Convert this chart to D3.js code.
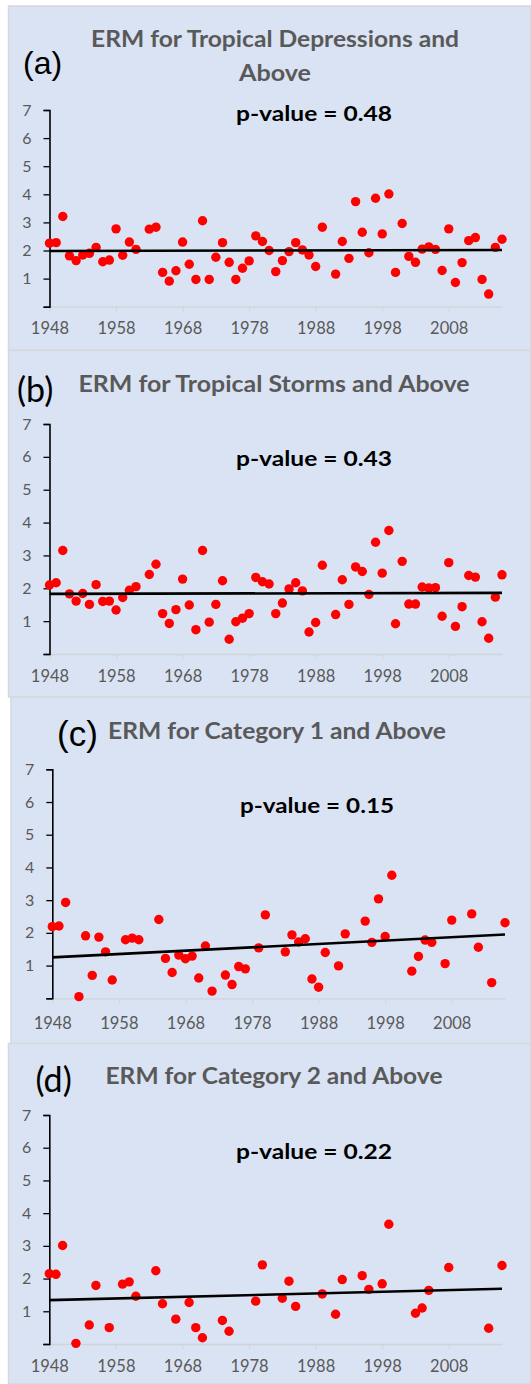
<!DOCTYPE html>
<html lang="en">
<head>
<meta charset="utf-8">
<title>ERM panels</title>
<script src="https://cdnjs.cloudflare.com/ajax/libs/d3/7.8.5/d3.min.js"></script>
<style>
  body { margin: 0; background: #fff; }
</style>
</head>
<body>
<svg id="chart" width="531" height="1384"></svg>
<script>
// years with data for panels (a) and (b)
var yearsAB = [1948,1949,1950,1951,1952,1953,1954,1955,1956,1957,1958,1959,1960,1961,1963,1964,1965,1966,1967,1968,
  1969,1970,1971,1972,1973,1974,1975,1976,1977,1978,1979,1980,1981,1982,1983,1984,1985,1986,1987,1988,1989,
  1991,1992,1993,1994,1995,1996,1997,1998,1999,2000,2001,2002,2003,2004,2005,2006,2007,2008,2009,2010,2011,
  2012,2013,2014,2015,2016];
var ermA = [2.26,2.28,3.21,1.81,1.64,1.84,1.90,2.11,1.60,1.66,2.77,1.83,2.30,2.04,2.76,2.83,1.22,0.91,1.28,2.30,
  1.51,0.97,3.06,0.97,1.76,2.28,1.58,0.97,1.37,1.63,2.52,2.32,2.00,1.25,1.64,1.96,2.28,2.02,1.84,1.43,2.83,
  1.16,2.32,1.72,3.74,2.65,1.92,3.86,2.59,4.01,1.22,2.96,1.79,1.58,2.05,2.13,2.04,1.29,2.77,0.86,1.57,2.35,
  2.46,0.97,0.45,2.11,2.40];
var ermB = [2.10,2.17,3.15,1.83,1.61,1.84,1.51,2.11,1.60,1.61,1.34,1.72,1.94,2.05,2.42,2.73,1.23,0.93,1.35,2.28,
  1.49,0.74,3.15,0.97,1.51,2.23,0.45,0.98,1.09,1.23,2.33,2.20,2.13,1.23,1.55,1.98,2.17,1.92,0.67,0.96,2.70,
  1.20,2.26,1.51,2.65,2.51,1.81,3.40,2.46,3.76,0.92,2.82,1.52,1.52,2.04,2.01,2.02,1.15,2.78,0.84,1.44,2.39,
  2.34,0.98,0.48,1.73,2.41];

var yearsC = [1948,1949,1950,1952,1953,1954,1955,1956,1957,1959,1960,1961,1964,1965,1966,1967,1968,1969,1970,1971,
  1972,1974,1975,1976,1977,1979,1980,1983,1984,1985,1986,1987,1988,1989,1991,1992,1995,1996,1997,1998,1999,
  2002,2003,2004,2005,2007,2008,2011,2012,2014,2016];
var ermC = [2.19,2.21,2.93,0.05,1.91,0.70,1.87,1.42,0.56,1.79,1.84,1.79,2.41,1.22,0.79,1.32,1.21,1.29,0.62,1.60,
  0.22,0.71,0.42,0.97,0.90,1.54,2.55,1.42,1.94,1.72,1.82,0.59,0.34,1.40,0.99,1.97,2.36,1.71,3.04,1.89,3.76,
  0.83,1.28,1.78,1.71,1.06,2.39,2.58,1.56,0.48,2.31];

var yearsD = [1948,1949,1950,1952,1954,1955,1957,1959,1960,1961,1964,1965,1967,1969,1970,1971,1974,1975,1979,1980,
  1983,1984,1985,1989,1991,1992,1995,1996,1998,1999,2003,2004,2005,2008,2014,2016];
var ermD = [2.15,2.13,3.01,0.02,0.58,1.79,0.50,1.83,1.90,1.46,2.24,1.23,0.76,1.27,0.50,0.19,0.72,0.39,1.31,2.42,
  1.40,1.92,1.15,1.53,0.91,1.97,2.09,1.67,1.84,3.66,0.94,1.10,1.64,2.34,0.48,2.40];

// linear trend end points
var trendYears = [1948, 2016];
var trendA = [1.98, 2.02];
var trendB = [1.83, 1.86];
var trendC = [1.25, 1.95];
var trendD = [1.34, 1.69];

var titles = [["ERM for Tropical Depressions and", "Above"], ["ERM for Tropical Storms and Above"],
  ["ERM for Category 1 and Above"], ["ERM for Category 2 and Above"]];
var letters = ["(a)", "(b)", "(c)", "(d)"];
var pValues = ["p-value = 0.48", "p-value = 0.43", "p-value = 0.15", "p-value = 0.22"];
var yTicks = [0, 1, 2, 3, 4, 5, 6, 7];
var xTicks = [1948, 1958, 1968, 1978, 1988, 1998, 2008];

// layout of each panel
var panels = [
  { years: yearsAB, vals: ermA, trend: trendA, box: [8.5, 6, 531, 350],
    x: [49.5, 502], y: [306.7, 110], xlab: 28,
    titleY: [47, 80.5], titleW: [368, 72], titleX: 275,
    letter: { x: 23, y: 74, size: 32, font: "Liberation Sans, Arial, sans-serif" },
    pY: 121, pX: 314, pW: 156 },
  { years: yearsAB, vals: ermB, trend: trendB, box: [8.5, 350.5, 531, 697],
    x: [49.5, 502], y: [654, 424], xlab: 28.5,
    titleY: [391.5], titleW: [391], titleX: 274,
    letter: { x: 17, y: 402, size: 34, font: "Lato, sans-serif" },
    pY: 466, pX: 314, pW: 156 },
  { years: yearsC, vals: ermC, trend: trendC, box: [11, 697, 531, 1043.5],
    x: [52.3, 505], y: [998.3, 769.3], xlab: 31,
    titleY: [739], titleW: [338], titleX: 277,
    letter: { x: 57, y: 746, size: 35, font: "Liberation Sans, Arial, sans-serif" },
    pY: 812.5, pX: 317, pW: 154 },
  { years: yearsD, vals: ermD, trend: trendD, box: [8.5, 1043.5, 531, 1384],
    x: [49.3, 502], y: [1344, 1115], xlab: 28.5,
    titleY: [1083.5], titleW: [337], titleX: 274,
    letter: { x: 35.5, y: 1092, size: 34, font: "Lato, sans-serif" },
    pY: 1158.5, pX: 314, pW: 156 }
];

var svg = d3.select("#chart");

panels.forEach(function(p, i) {
  var g = svg.append("g");

  g.append("rect")
    .attr("x", p.box[0]).attr("y", p.box[1])
    .attr("width", p.box[2] - p.box[0]).attr("height", p.box[3] - p.box[1])
    .style("fill", "#dae3f3").style("stroke", "#d5d8de").style("stroke-width", 1.5);

  var x = d3.scaleLinear().domain([1948, 2016]).range(p.x);
  var y = d3.scaleLinear().domain([0, 7]).range(p.y);

  // x axis, light grey
  var xa = g.append("g")
    .attr("transform", "translate(0," + p.y[0] + ")")
    .call(d3.axisBottom(x).tickValues(xTicks).tickFormat(d3.format("d"))
      .tickSize(5).tickSizeOuter(0).tickPadding(p.xlab - 17))
    .attr("font-family", "Lato, 'Open Sans', sans-serif")
    .attr("font-size", 16.5);
  xa.select(".domain").style("stroke", "#d0d4da").style("stroke-width", 1.3);
  xa.selectAll(".tick line").style("stroke", "#d0d4da");
  xa.selectAll("text").attr("fill", "#595959");

  // y axis, black
  var ya = g.append("g")
    .attr("transform", "translate(" + p.x[0] + ",0)")
    .call(d3.axisLeft(y).tickValues(yTicks).tickFormat(function(d) { return d === 0 ? "" : d; })
      .tickSize(6).tickSizeOuter(6).tickPadding(12))
    .attr("font-family", "Lato, 'Open Sans', sans-serif")
    .attr("font-size", 16);
  ya.select(".domain").style("stroke", "#000").style("stroke-width", 1.6);
  ya.selectAll(".tick line").style("stroke", "#000").style("stroke-width", 1.3);
  ya.selectAll("text").attr("fill", "#595959");

  // points
  g.selectAll("circle.pt")
    .data(p.years.map(function(yr, k) { return [yr, p.vals[k]]; }))
    .enter()
    .append("circle")
    .attr("class", "pt")
    .attr("cx", function(d) { return x(d[0]); })
    .attr("cy", function(d) { return y(d[1]); })
    .attr("r", 4.7)
    .style("fill", "#ff0000");

  // trend line
  g.append("line")
    .attr("x1", x(trendYears[0])).attr("y1", y(p.trend[0]))
    .attr("x2", x(trendYears[1])).attr("y2", y(p.trend[1]))
    .style("stroke", "#000").style("stroke-width", 2.6);

  // title
  titles[i].forEach(function(t, j) {
    g.append("text")
      .attr("x", p.titleX).attr("y", p.titleY[j])
      .attr("text-anchor", "middle")
      .attr("textLength", p.titleW[j]).attr("lengthAdjust", "spacingAndGlyphs")
      .style("font-family", "Lato, sans-serif").style("font-weight", "bold")
      .style("font-size", "23px").style("fill", "#595959")
      .text(t);
  });

  g.append("text")
    .attr("x", p.letter.x).attr("y", p.letter.y)
    .style("font-family", p.letter.font).style("font-size", p.letter.size + "px")
    .style("fill", "#000")
    .text(letters[i]);

  g.append("text")
    .attr("x", p.pX).attr("y", p.pY)
    .attr("text-anchor", "middle")
    .attr("textLength", p.pW).attr("lengthAdjust", "spacingAndGlyphs")
    .style("font-family", "Lato, sans-serif").style("font-weight", "bold")
    .style("font-size", "21px").style("fill", "#000")
    .text(pValues[i]);
});
</script>
</body>
</html>
